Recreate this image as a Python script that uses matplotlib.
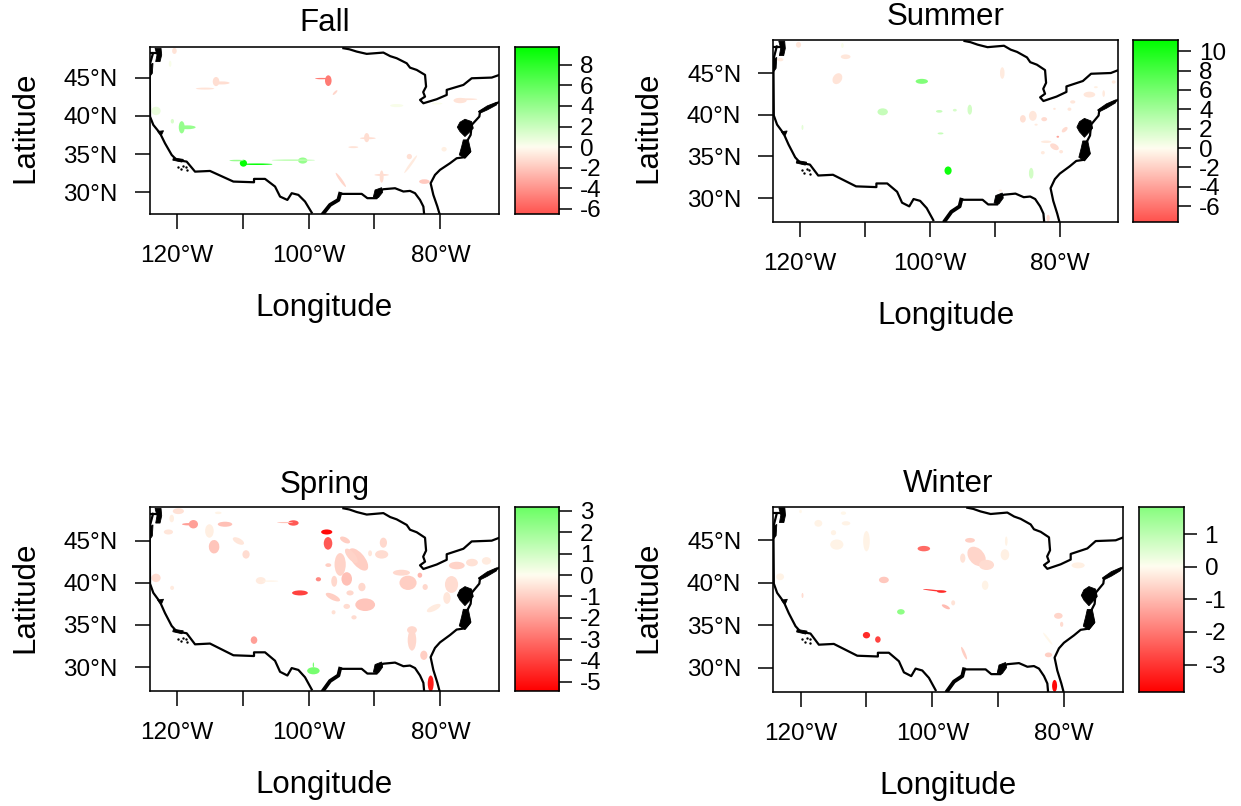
import matplotlib
matplotlib.use("Agg")
import matplotlib.pyplot as plt
import numpy as np
from matplotlib.patches import Ellipse, Polygon
from matplotlib.collections import PatchCollection
from matplotlib.colors import LinearSegmentedColormap, Normalize

plt.rcParams['font.family'] = ['Liberation Sans', 'DejaVu Sans']

W, H = 1241, 806

# Map outline, (lon, lat)
border_lon = [-94.71, -93.8, -92.69, -91.17, -88.64, -87.6, -86.62, -85.10, -84.6, -83.58, -82.32, -82.16, -82.6, -82.32, -83.08, -82.57, -80.55, -79.03, -79.03, -76.50, -75.24, -72.2, -71.04]
border_lat = [48.84, 48.7, 48.40, 48.10, 48.27, 47.8, 47.53, 46.87, 46.3, 46.0, 45.35, 43.82, 43.1, 42.51, 42.08, 41.64, 42.17, 42.73, 43.39, 44.04, 44.91, 45.0, 45.35]
east_lon = [-70.94, -72.46, -73.97, -74.08, -75.24, -75.4, -76.0, -75.5, -76.26, -77.52, -78.53, -80.05, -80.81, -81.47, -81.06, -80.45, -80.15]
east_lat = [41.86, 41.2, 40.55, 39.9, 38.81, 37.5, 36.6, 35.3, 34.6, 34.45, 33.8, 32.93, 32.27, 31.18, 29.66, 28.14, 27.26]
gulf_lon = [-82.47, -82.57, -83.08, -83.84, -84.6, -85.6, -86.87, -88.64, -89.4, -89.65, -91.07, -91.93, -93.45, -95.22, -95.47, -96.73, -97.74]
gulf_lat = [27.26, 28.13, 29.0, 29.88, 30.18, 30.1, 30.53, 30.4, 30.1, 29.23, 29.23, 29.79, 29.79, 29.79, 29.0, 28.35, 27.26]
south_lon = [-99.52, -100.53, -101.54, -102.55, -103.21, -104.32, -105.08, -106.6, -108.27, -108.27, -111.4, -114.95, -117.22, -118.49, -120, -120.76, -121.78, -122.53, -123.55, -124.05, -124.1, -124.1, -123.6]
south_lat = [27.35, 28.79, 29.66, 29.88, 29, 29.44, 30.75, 31.75, 31.75, 31.31, 31.4, 32.79, 32.7, 34.01, 34.23, 34.88, 36.41, 37.72, 38.81, 39.9, 45.13, 46.65, 48.18]
north_lon = [-124.1, -122.6]
north_lat = [48.18, 48.18]
# Thick stretches of shoreline
heavy_lon = [-97.74, -96.73, -95.47, -95.22]
heavy_lat = [27.26, 28.35, 29.0, 29.79]
# Dense black shoreline (bays, sounds)
shore_shapes = [
    [(-76.26, 39.55), (-75.25, 39.25), (-75, 38.38), (-75.75, 37.72), (-76.26, 37.29), (-77.02, 37.94), (-77.42, 38.51), (-77.02, 39.16)],
    [(-76.51, 36.85), (-75.75, 36.85), (-75.35, 35.33), (-76.26, 34.45), (-77.12, 34.89), (-76.76, 35.98)],
    [(-74.23, 40.56), (-72.87, 41.3), (-71.45, 41.78), (-71.45, 41.43), (-72.87, 40.77), (-73.98, 40.34)],
    [(-123.29, 48.83), (-122.38, 48.83), (-122.28, 47.96), (-122.53, 47.09), (-123.19, 47.09), (-122.99, 47.96)],
    [(-124.1, 46.65), (-123.6, 46.87), (-123.7, 45.56), (-124.1, 45.13)],
    [(-122.9, 37.95), (-122.0, 38.05), (-122.3, 37.5), (-122.6, 37.6)],
    [(-89.9, 30.3), (-88.9, 30.6), (-88.75, 30.0), (-89.4, 29.3), (-90.16, 29.4)],
    [(-120.5, 34.5), (-119.0, 34.3), (-119.2, 33.95), (-120.6, 34.2)],
]
island_lon = [-119.75, -119, -118.49, -119.35, -118.59]
island_lat = [33.36, 33.49, 32.92, 33.05, 33.36]

# Regions: lon, lat, half-width, half-height, value, tilt
fall_regions = [
    (-97.0, 44.6, .5, .7, -5, 0), (-98.0, 44.87, 1.0, .09, -5, 0), (-95.97, 43.04, .45, .15, -1.5, 40),
    (-114.03, 44.48, .5, .6, -1.2, 0), (-113.17, 44.3, 1.2, .2, -1.2, 0), (-115.7, 43.56, 1.4, .13, -1, 0),
    (-123.14, 40.64, .7, .55, .8, 0), (-120.66, 39.29, .25, .3, 1.5, 0),
    (-119.24, 38.5, .45, .8, 4, 0), (-118.38, 38.5, 1.25, .25, 4, 0),
    (-109.88, 33.8, .55, .45, 9.5, 0), (-107.86, 33.67, 2.4, .1, 9.5, 0), (-110.9, 34.15, 1.1, .1, 4, 0),
    (-100.88, 34.15, .7, .4, 4, 0), (-102.3, 34.2, 3.3, .1, 2.5, 0),
    (-121.0, 46.8, .2, .4, .3, 0), (-120.35, 48.49, .35, .4, -1, 0), (-86.62, 41.34, 1, .2, .3, 0),
    (-77, 42, 1.0, .35, -1, 0), (-76, 42.17, 1.6, .12, -1, 0), (-80.5, 41.6, .8, .12, .2, 0),
    (-91.17, 37.15, .4, .6, -1.2, 0), (-91.0, 37.07, 1.2, .13, -1.2, 0), (-93.2, 35.9, .75, .13, -1, 0),
    (-79.43, 35.63, .4, .3, -.5, 0), (-84.7, 34.67, .4, .35, -1.1, 0), (-84.5, 33.67, 1.5, .18, -.7, 50),
    (-95.1, 31.62, 1.2, .2, -1.5, -50), (-88.9, 32.05, .3, .8, -1.2, 0), (-88.9, 32.27, 1.1, .13, -1.2, 0),
    (-82.42, 31.4, .8, .3, -2, 0),
]
summer_regions = [
    (-120.25, 48.39, .4, .35, -1, 0), (-113, 46.95, .75, .28, -1, 0), (-114.27, 44.32, .8, .6, -1.1, 30),
    (-123.07, 46.6, .5, .2, -.8, 0), (-113.5, 48.3, .2, .3, .3, 0), (-101.28, 44, .95, .3, 5.5, 0),
    (-107.3, 40.34, .8, .42, 2.5, 0), (-98.6, 40.4, .5, .16, 2.5, 0), (-96.2, 40.54, .3, .16, 1.8, 0),
    (-93.9, 40.6, .35, .6, 2, 0), (-98.4, 37.75, .45, .12, 2.5, 0), (-97.24, 33.29, .55, .5, 10.5, 0),
    (-84.45, 32.97, .35, .65, 2.0, 0), (-119.64, 38.47, .15, .3, 1.2, 0), (-88.9, 45, .35, .7, -.8, 0),
    (-85.73, 39.5, .45, .45, -1.3, 0), (-84.2, 39.86, .6, .6, -1, 0), (-82.45, 39.46, .45, .25, -1.5, 0),
    (-75.5, 42.41, .9, .35, -1, 0), (-73.3, 42.53, .2, .4, -.8, 0), (-78.06, 41.53, .4, .2, -1, 0),
    (-78.57, 40.66, .3, .2, -1, 0), (-80.87, 40.7, .2, .12, -1, 0), (-79.3, 38.2, .5, .25, -1.5, 30),
    (-80.87, 36.15, .7, .35, -1.5, -20), (-80.36, 37.35, .2, .12, -4, 0), (-82.15, 36.75, .8, .15, -.8, 0),
    (-79.85, 35.56, .3, .2, -1, 0), (-82.66, 35.44, .3, .2, -.8, 0), (-71.76, 43.92, .3, .2, -.8, 0),
    (-81.84, 27.6, .25, .4, -1.5, 0), (-89.2, 30.9, .3, .12, -.7, 0), (-83.7, 38.8, .25, .12, -.8, 0),
    (-74.5, 43.3, .3, .12, -.6, 0),
]
spring_regions = [
    (-119.75, 48.5, .85, .35, -.6, 0), (-120.76, 47.63, .35, .45, -.3, 0), (-121.26, 46.03, .7, .3, -.5, 0),
    (-117.47, 46.95, .7, .5, -2, 0), (-118.2, 46.95, 1.0, .14, -2, 0), (-112.67, 46.95, 1.1, .3, -1.3, 0),
    (-115.04, 46.15, .65, .8, -.3, 0), (-114.33, 44.28, .8, .8, -1.2, 30), (-110.64, 44.96, .9, .35, -.5, -20),
    (-109.48, 43.37, .55, .5, -.7, 0), (-123.14, 40.58, .7, .5, -.7, 0), (-107.25, 40.26, .75, .42, -.4, 0),
    (-105.8, 40.2, 1.2, .08, -.2, 0), (-102.3, 47.1, .8, .32, -3.5, 0), (-103.56, 47.15, 1.2, .07, -1.2, 0),
    (-97.24, 46.03, .85, .3, -5.2, 0), (-97.04, 44.68, .65, .75, -3.5, 0), (-94.46, 45.08, .8, .33, -1, -20),
    (-88.64, 44.76, .55, .6, -.8, 0), (-88.9, 43.37, 1.0, .5, -.7, 0), (-90.66, 43.5, .3, .35, -.5, 0),
    (-92.43, 42.77, 1.8, .85, -1, -40), (-93.5, 43.2, 1.2, .5, -.9, -40), (-95.2, 42.18, .85, 1.35, -.9, 0),
    (-94.2, 40.46, .8, .8, -1.3, 0), (-96.1, 40.18, .45, .65, -.8, 0), (-98.5, 40.42, .4, .25, -2.5, 0),
    (-97, 42.1, .45, .22, -1, 0), (-101.3, 38.8, 1.2, .3, -4, 0), (-96.3, 38.3, 1.15, .35, -1, -20),
    (-93.7, 38.8, .55, .3, -.8, 0), (-91.9, 39.5, .55, .5, -.8, 0), (-91.4, 37.4, 1.5, .75, -1.2, 0),
    (-94.2, 37.2, .5, .3, -.7, 0), (-93.1, 35.9, .4, .25, -.7, 0), (-96.2, 36.5, .3, .25, -.6, 0),
    (-85.9, 41.2, 1.3, .35, -.8, 0), (-84.9, 40, 1.3, .85, -1, 0), (-83.1, 40.9, .35, .3, -1.5, 0),
    (-82.3, 39.5, .4, .35, -.8, 0), (-77.5, 42.05, 1.2, .45, -.9, 0), (-75.2, 42.4, .9, .45, -.6, 0),
    (-78.3, 39.8, 1.0, 1.0, -.7, 0), (-79, 38.2, .55, .7, -.5, 0), (-81, 37, 1.1, .35, -.4, 20),
    (-84.3, 34.4, .75, .45, -.8, 0), (-84.3, 33.2, .65, 1.25, -.8, 0), (-82.5, 31.4, .55, .55, -1, 0),
    (-81.46, 28.05, .45, .95, -4.8, 0), (-108.27, 33.2, .5, .45, -2, 0), (-73, 42.6, .7, .45, -.4, 0),
    (-99.26, 29.56, .95, .42, 2.9, 0), (-99.26, 30.25, .1, .3, 2.9, 0), (-113.7, 48.3, .5, .15, -.2, 0),
    (-120.7, 39.4, .3, .25, -.4, 0),
]
winter_regions = [
    (-110, 33.82, .55, .38, -3.2, 0), (-108.27, 33.31, .42, .38, -2.8, 0), (-104.78, 36.57, .58, .32, 1.7, 0),
    (-101.3, 44.02, .95, .32, -2.2, 0), (-99.63, 39.08, 1.8, .08, -3, -5), (-98.6, 38.96, .7, .15, -3.2, 0),
    (-107.36, 40.33, .75, .38, -.8, 0), (-97.96, 37.16, .65, .2, -1, -20), (-96.85, 37.63, .3, .3, -.4, 0),
    (-94.3, 45, .75, .28, -.7, 0), (-93.3, 43.1, 1.5, 1.0, -.6, -30), (-95.4, 42.9, .4, .55, -.4, 0),
    (-91.8, 42.1, 1.15, .6, -.5, 0), (-89, 43.3, .65, .65, -.2, 0), (-88.8, 44.9, .2, .55, -.15, 0),
    (-77.9, 42.05, 1.0, .35, -.2, 0), (-92, 39.7, .5, .55, -.15, 0), (-80.9, 36.1, .65, .35, -.6, 0),
    (-80.4, 35.1, .25, .3, -.5, 0), (-95.2, 31.7, .85, .2, -.7, -60), (-82.4, 31.5, .55, .28, -.7, 0),
    (-81.47, 27.85, .38, .7, -3.7, 0), (-110, 44.9, .5, 1.2, -.15, 0), (-114.5, 44.5, 1, .6, -.15, 0),
    (-117.3, 47, .6, .4, -.15, 0), (-113.1, 47, .65, .25, -.15, 0), (-115, 45.9, .4, .3, -.15, 0),
    (-123.1, 40.7, .6, .4, -.15, 0), (-119.7, 38.5, .15, .3, -.5, 0), (-120, 48.4, .2, .2, -.1, 0),
    (-113.5, 48.2, .4, .2, -.1, 0), (-82.5, 33.4, 1, .15, -.1, -45),
]

lon_ticks = [-120, -110, -100, -90, -80]
lon_labels = ['120°W', '', '100°W', '', '80°W']
lat_ticks = [30, 35, 40, 45]
lat_labels = ['30°N', '35°N', '40°N', '45°N']

fall_ticks = [-6, -4, -2, 0, 2, 4, 6, 8]
summer_ticks = [-6, -4, -2, 0, 2, 4, 6, 8, 10]
spring_ticks = [-5, -4, -3, -2, -1, 0, 1, 2, 3]
winter_ticks = [-3, -2, -1, 0, 1]

cmap = LinearSegmentedColormap.from_list('rwg', [(0, '#ff0000'), (.5, '#fffdf0'), (1, '#00ff00')], N=512)


def px_axes(fig, x0, x1, y0, y1):
    return fig.add_axes([x0 / W, 1 - y1 / H, (x1 - x0) / W, (y1 - y0) / H])


def style(ax):
    for s in ax.spines.values():
        s.set_linewidth(1.15)


def panel(fig, title, regions, axbox, cbox, crange, cticks, title_y, xlab_y, ylab_x, ylab_y):
    ax = px_axes(fig, *axbox)
    lo, hi = crange
    norm = Normalize(-max(abs(lo), hi), max(abs(lo), hi))
    patches = [Ellipse((r[0], r[1]), 2 * r[2], 2 * r[3], angle=r[5]) for r in regions]
    pc = PatchCollection(patches, cmap=cmap, norm=norm, edgecolor='none', zorder=2)
    pc.set_array(np.array([r[4] for r in regions]))
    ax.add_collection(pc)
    for xs, ys in [(border_lon, border_lat), (east_lon, east_lat), (gulf_lon, gulf_lat), (south_lon, south_lat), (north_lon, north_lat)]:
        ax.plot(xs, ys, color='k', lw=1.6, zorder=3, solid_joinstyle='round')
    ax.plot(heavy_lon, heavy_lat, color='k', lw=2.8, zorder=3)
    for shp in shore_shapes:
        ax.add_patch(Polygon(shp, closed=True, fc='k', ec='k', lw=.6, zorder=3))
    ax.scatter(island_lon, island_lat, s=3, c='k', lw=0, zorder=3)
    ax.set_xlim(-124.13, -71.05)
    ax.set_ylim(27.16, 48.96)
    ax.set_xticks(lon_ticks)
    ax.set_xticklabels(lon_labels, fontsize=17.5)
    ax.set_yticks(lat_ticks)
    ax.set_yticklabels(lat_labels, fontsize=17.5)
    ax.tick_params(axis='x', length=11, width=1.1, pad=11.5)
    ax.tick_params(axis='y', length=11, width=1.1, pad=12)
    style(ax)

    cax = px_axes(fig, *cbox)
    cax.imshow(np.linspace(hi, lo, 512)[:, None], aspect='auto', cmap=cmap, norm=norm, extent=[0, 1, lo, hi])
    cax.set_xticks([])
    cax.yaxis.tick_right()
    cax.set_yticks(cticks)
    cax.set_yticklabels([str(t) for t in cticks], fontsize=17.5)
    cax.tick_params(axis='y', length=9, width=1.1, pad=6)
    style(cax)

    cx = (axbox[0] + axbox[1]) / 2
    fig.text(cx / W, 1 - (title_y + 3) / H, title, fontsize=22.5, ha='center', va='center')
    fig.text(cx / W, 1 - (xlab_y + 3) / H, 'Longitude', fontsize=22.5, ha='center', va='center')
    fig.text(ylab_x / W, 1 - (ylab_y - 3) / H, 'Latitude', fontsize=22.5, ha='center', va='center', rotation=90)


fig = plt.figure(figsize=(W / 100, H / 100), dpi=100, facecolor='white')
panel(fig, 'Fall', fall_regions, (149.5, 499.3, 47.3, 214), (515, 559.3, 47.3, 214), (-6.5, 9.7), fall_ticks, 20, 305, 25, 130)
panel(fig, 'Summer', summer_regions, (773.3, 1118.3, 40, 221.7), (1133.3, 1178.3, 40, 221.7), (-7.6, 11.15), summer_ticks, 14, 313, 648, 130)
panel(fig, 'Spring', spring_regions, (149.5, 499.3, 507.3, 691), (515, 559.3, 507.3, 691), (-5.43, 3.17), spring_ticks, 482, 782, 25, 600)
panel(fig, 'Winter', winter_regions, (773.3, 1123.3, 506.7, 691.7), (1138.7, 1183.7, 506.7, 691.7), (-3.83, 1.84), winter_ticks, 481, 783, 648, 600)
fig.savefig('out.png', dpi=100)
